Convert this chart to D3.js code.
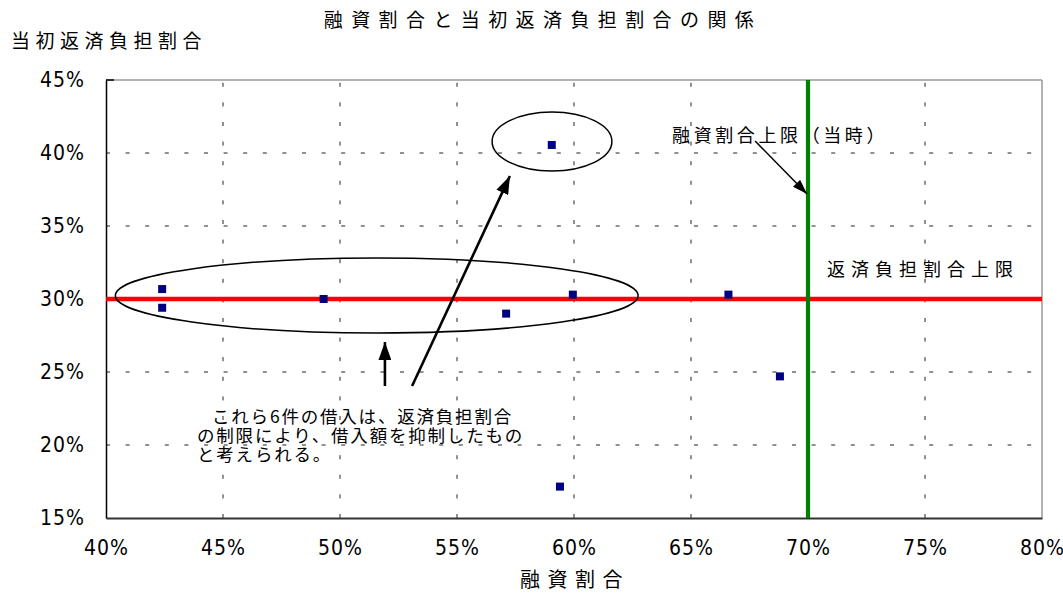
<!DOCTYPE html>
<html>
<head>
<meta charset="utf-8">
<script src="https://cdn.jsdelivr.net/npm/d3@7"></script>
<style>
  body { margin: 0; background: #fff; }
  svg { display: block; }
  .cjk { font-family: 'Noto Sans CJK JP', sans-serif; fill: #000; }
  .num { font-family: 'Liberation Sans Narrow', 'DejaVu Sans Condensed', 'Arial Narrow', sans-serif; fill: #000; }
</style>
</head>
<body>
<div id="chart"></div>
<script>
// 融資割合 (x) と 当初返済負担割合 (y)
const loanRatio = [0.424, 0.424, 0.493, 0.571, 0.5905, 0.5995, 0.666, 0.688, 0.594];
const burdenRatio = [0.3068, 0.294, 0.300, 0.290, 0.4055, 0.303, 0.303, 0.247, 0.1715];

const xTicks = [0.40, 0.45, 0.50, 0.55, 0.60, 0.65, 0.70, 0.75, 0.80];
const yTicks = [0.15, 0.20, 0.25, 0.30, 0.35, 0.40, 0.45];

const burdenLimit = 0.30;
const loanLimit = 0.70;

const noteLines = [
  'これら6件の借入は、返済負担割合',
  'の制限により、借入額を抑制したもの',
  'と考えられる。'
];

const width = 1063, height = 595;
const margin = { top: 80, right: 21, bottom: 77, left: 106 };
const w = width - margin.left - margin.right;
const h = height - margin.top - margin.bottom;

const svg = d3.select('#chart').append('svg')
  .attr('width', width)
  .attr('height', height);

const defs = svg.append('defs');
const addHead = (id, len, wid) => {
  defs.append('marker')
    .attr('id', id)
    .attr('markerUnits', 'userSpaceOnUse')
    .attr('viewBox', `0 0 ${len} ${wid}`)
    .attr('refX', len).attr('refY', wid / 2)
    .attr('markerWidth', len).attr('markerHeight', wid)
    .attr('orient', 'auto')
    .append('path')
      .attr('d', `M0,0L${len},${wid / 2}L0,${wid}Z`)
      .attr('fill', '#000');
};
addHead('headBig', 18, 13);
addHead('headSmall', 15, 10);

const plot = svg.append('g')
  .attr('transform', `translate(${margin.left},${margin.top})`);

const x = d3.scaleLinear().domain([0.4, 0.8]).range([0, w]);
const y = d3.scaleLinear().domain([0.15, 0.45]).range([h, 0]);
const pct = d => Math.round(d * 100) + '%';

// grid
plot.append('g')
  .selectAll('line')
  .data(xTicks.slice(1, -1))
  .enter().append('line')
    .attr('x1', d => x(d)).attr('x2', d => x(d))
    .attr('y1', h).attr('y2', 0)
    .attr('stroke', '#222').attr('stroke-width', 1)
    .attr('stroke-dasharray', '4,15.6');
plot.append('g')
  .selectAll('line')
  .data(yTicks.slice(1, -1))
  .enter().append('line')
    .attr('x1', 0).attr('x2', w)
    .attr('y1', d => y(d)).attr('y2', d => y(d))
    .attr('stroke', '#222').attr('stroke-width', 1)
    .attr('stroke-dasharray', '4,15.6');

// frame
plot.append('line').attr('x1', 0).attr('x2', w).attr('y1', 0).attr('y2', 0)
  .attr('stroke', '#999').attr('stroke-width', 1.5);
plot.append('line').attr('x1', w).attr('x2', w).attr('y1', 0).attr('y2', h)
  .attr('stroke', '#999').attr('stroke-width', 1.5);
plot.append('line').attr('x1', 0).attr('x2', 8).attr('y1', 0).attr('y2', 0)
  .attr('stroke', '#000').attr('stroke-width', 1.5);

// axes
const xAxis = plot.append('g')
  .attr('transform', `translate(0,${h})`)
  .call(d3.axisBottom(x).tickValues(xTicks).tickFormat(pct).tickSize(0).tickPadding(22));
xAxis.select('.domain').attr('stroke', '#333').attr('stroke-width', 2);
xAxis.selectAll('text').attr('class', 'num').attr('font-size', 21).attr('letter-spacing', 1)
  .attr('dy', null).attr('dominant-baseline', 'middle').attr('y', 31);

const yAxis = plot.append('g')
  .call(d3.axisLeft(y).tickValues(yTicks).tickFormat(pct).tickSize(0).tickPadding(21));
yAxis.select('.domain').attr('stroke', '#000').attr('stroke-width', 1.5);
yAxis.selectAll('text').attr('class', 'num').attr('font-size', 21).attr('letter-spacing', 1)
  .attr('dy', null).attr('dominant-baseline', 'middle');
svg.selectAll('.tick text').attr('fill', '#000').style('font-family', null);
plot.selectAll('.domain').attr('fill', 'none');

// limit lines
plot.append('line')
  .attr('x1', x(0.4)).attr('x2', x(0.8))
  .attr('y1', y(burdenLimit)).attr('y2', y(burdenLimit))
  .attr('stroke', '#ff0000').attr('stroke-width', 4.5);
plot.append('line')
  .attr('x1', x(loanLimit)).attr('x2', x(loanLimit))
  .attr('y1', y(0.15)).attr('y2', y(0.45))
  .attr('stroke', '#008000').attr('stroke-width', 4.2);

// points
plot.append('g')
  .selectAll('rect')
  .data(d3.range(loanRatio.length))
  .enter().append('rect')
    .attr('x', i => x(loanRatio[i]) - 4)
    .attr('y', i => y(burdenRatio[i]) - 4)
    .attr('width', 8).attr('height', 8)
    .attr('fill', '#000080');

// ellipses (data units)
const ellipses = [
  { cx: 0.5157, cy: 0.3024, rx: 0.1117, ry: 0.0257 },
  { cx: 0.5906, cy: 0.4079, rx: 0.0256, ry: 0.0202 }
];
plot.append('g')
  .selectAll('ellipse')
  .data(ellipses)
  .enter().append('ellipse')
    .attr('cx', d => x(d.cx)).attr('cy', d => y(d.cy))
    .attr('rx', d => x(0.4 + d.rx) - x(0.4))
    .attr('ry', d => y(0.15) - y(0.15 + d.ry))
    .attr('fill', 'none').attr('stroke', '#000').attr('stroke-width', 1.5);

// arrows (data units)
const arrows = [
  { x1: 0.5192, y1: 0.2404, x2: 0.5192, y2: 0.2705, sw: 2.6, head: 'headBig' },
  { x1: 0.5308, y1: 0.2404, x2: 0.5726, y2: 0.3842, sw: 2.6, head: 'headBig' },
  { x1: 0.6774, y1: 0.4082, x2: 0.6996, y2: 0.3719, sw: 1.5, head: 'headSmall' }
];
plot.append('g')
  .selectAll('line')
  .data(arrows)
  .enter().append('line')
    .attr('x1', d => x(d.x1)).attr('y1', d => y(d.y1))
    .attr('x2', d => x(d.x2)).attr('y2', d => y(d.y2))
    .attr('stroke', '#000').attr('stroke-width', d => d.sw)
    .attr('marker-end', d => `url(#${d.head})`);

// labels
plot.append('text').attr('class', 'cjk')
  .attr('x', x(0.6419)).attr('y', y(0.4110))
  .attr('dominant-baseline', 'middle')
  .attr('font-size', 18).attr('letter-spacing', 3.6)
  .text('融資割合上限（当時）');
plot.append('text').attr('class', 'cjk')
  .attr('x', x(0.7081)).attr('y', y(0.3192))
  .attr('dominant-baseline', 'middle')
  .attr('font-size', 18).attr('letter-spacing', 6)
  .text('返済負担割合上限');

const note = plot.append('text').attr('class', 'cjk')
  .attr('font-size', 17.5).attr('letter-spacing', 1.8)
  .attr('dominant-baseline', 'middle');
note.selectAll('tspan')
  .data(noteLines)
  .enter().append('tspan')
    .attr('x', (d, i) => i === 0 ? x(0.4453) : x(0.4389))
    .attr('y', (d, i) => y(0.2185) + i * 19)
    .text(d => d);

// titles
svg.append('text').attr('class', 'cjk')
  .attr('x', 543).attr('y', 22)
  .attr('text-anchor', 'middle').attr('dominant-baseline', 'middle')
  .attr('font-size', 19).attr('letter-spacing', 8.4)
  .text('融資割合と当初返済負担割合の関係');
svg.append('text').attr('class', 'cjk')
  .attr('x', 11).attr('y', 43)
  .attr('dominant-baseline', 'middle')
  .attr('font-size', 19).attr('letter-spacing', 5.5)
  .text('当初返済負担割合');
svg.append('text').attr('class', 'cjk')
  .attr('x', 575).attr('y', 582)
  .attr('text-anchor', 'middle').attr('dominant-baseline', 'middle')
  .attr('font-size', 20).attr('letter-spacing', 7.5)
  .text('融資割合');
</script>
</body>
</html>
